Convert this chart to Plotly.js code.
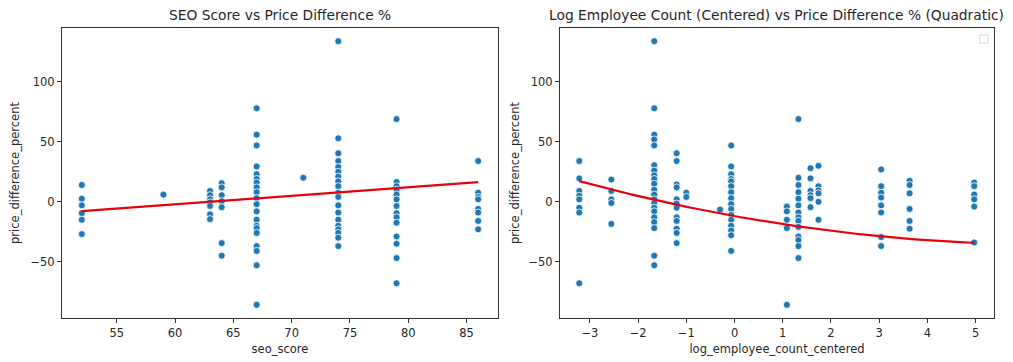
<!DOCTYPE html>
<html>
<head>
<meta charset="utf-8">
<script src="https://cdn.plot.ly/plotly-3.0.1.min.js"></script>
<style>html,body{margin:0;padding:0;background:#fff;}#chart{width:1013px;height:362px;}</style>
</head>
<body>
<div id="chart"></div>
<script>
// ---- Data ----
const seoLevels = [52, 59, 63, 64, 67, 71, 74, 79, 86];
const seoPriceDiff = [
  [14, 2.5, -3, -9.5, -15, -27],
  [6],
  [9, 5.5, 2, -0.5, -3.5, -10.5, -14.5],
  [15.5, 12, 5.5, 0.5, -4.5, -34.5, -45],
  [78, 56, 47, 29.5, 23, 19, 16, 12, 8, 3, -2, -8, -15, -20, -22, -26, -37, -41, -53, -86],
  [20],
  [134, 53, 40.5, 34, 29, 25, 21, 17, 13, 7.5, 4, -3, -9, -15, -20, -23, -26, -30, -37],
  [69, 16.5, 13, 10, 6, 2, -3.5, -9.5, -13, -17.5, -29, -35, -47, -68],
  [34, 7.5, 4, 2, -6, -9, -16, -23]
];

const empLevels = [-3.22, -2.555, -1.665, -1.2, -1.0, -0.3, -0.07, 1.085, 1.325, 1.575, 1.74, 3.04, 3.63, 4.97];
const empPriceDiff = [
  [34, 19.5, 9, 5, 2, -5, -9, -68],
  [18.5, 9, 2, -1, -18.5],
  [134, 78, 56, 52, 47, 30.5, 26, 22, 19, 15, 10, 6, 2, -1, -5, -8, -13, -17, -22, -45, -53],
  [40.5, 34, 14.5, 12, 2, -1.5, -5, -13, -16, -22.5, -26, -34.5],
  [7.5, 4],
  [-6.5],
  [47, 29.5, 23, 19, 17, 13, 8, 3, -2, -6, -11, -15, -20, -24, -28, -41],
  [-4, -8, -15, -22, -86],
  [69, 20, 14, 8, 2.5, -3, -9, -13, -16, -21, -29, -32, -37, -47],
  [28, 19.5, 9, 5.5, 3, -4.5],
  [30, 13, 9.5, 7, 0, -15],
  [27, 13, 7.5, 3.5, -3, -9, -29.5, -37],
  [17.5, 14, 7, -6, -16, -22.5],
  [16, 13, 6, 2, -4, -34]
];

// Fitted model coefficients as shown in the reference (constant, linear, quadratic terms)
const seoFitCoef = [-44.65, 0.709];
const empFitCoef = [-12.0, -7.265, 0.5617];

const titles = ["SEO Score vs Price Difference %", "Log Employee Count (Centered) vs Price Difference % (Quadratic)"];
const xLabels = ["seo_score", "log_employee_count_centered"];
const yLabel = "price_difference_percent";

// ---- Helpers ----
function expand(levels, groups) {
  const xs = [], ys = [];
  levels.forEach((lv, i) => groups[i].forEach(v => { xs.push(lv); ys.push(v); }));
  return {xs, ys};
}
function curve(coef, x0, x1, steps) {
  const X = [], Y = [];
  for (let i = 0; i <= steps; i++) {
    const x = x0 + (x1 - x0) * i / steps;
    X.push(x);
    Y.push(coef.reduce((s, c, p) => s + c * Math.pow(x, p), 0));
  }
  return {X, Y};
}

const L = expand(seoLevels, seoPriceDiff);
const R = expand(empLevels, empPriceDiff);
const linLine = curve(seoFitCoef, Math.min(...L.xs), Math.max(...L.xs), 2);
const quadLine = curve(empFitCoef, Math.min(...R.xs), Math.max(...R.xs), 120);

const markerStyle = {color: '#1f77b4', size: 7, line: {color: '#ffffff', width: 0.8}};
const traces = [
  {type: 'scatter', mode: 'markers', x: L.xs, y: L.ys, xaxis: 'x', yaxis: 'y', marker: markerStyle, showlegend: false},
  {type: 'scatter', mode: 'lines', x: linLine.X, y: linLine.Y, xaxis: 'x', yaxis: 'y', line: {color: '#e8000b', width: 2.2}, showlegend: false},
  {type: 'scatter', mode: 'markers', x: R.xs, y: R.ys, xaxis: 'x2', yaxis: 'y2', marker: markerStyle, showlegend: false},
  {type: 'scatter', mode: 'lines', x: quadLine.X, y: quadLine.Y, xaxis: 'x2', yaxis: 'y2', line: {color: '#e8000b', width: 2.2}, showlegend: false}
];

const font = {family: 'DejaVu Sans, sans-serif', size: 11.5, color: '#262626'};
function axis(extra) {
  return Object.assign({
    showgrid: false, zeroline: false, showline: true, mirror: true,
    linecolor: '#333333', linewidth: 1, ticks: 'outside', ticklen: 4, tickcolor: '#333333',
    tickfont: font, title: {font: font}
  }, extra);
}

const layout = {
  width: 1013, height: 362,
  margin: {l: 62, r: 19, t: 28, b: 44},
  paper_bgcolor: '#ffffff', plot_bgcolor: '#ffffff',
  font: font,
  showlegend: false,
  xaxis: axis({domain: [0, 0.4678], range: [50.3, 87.7], tickvals: [55, 60, 65, 70, 75, 80, 85], anchor: 'y',
               title: {text: xLabels[0], font: font, standoff: 6}}),
  yaxis: axis({domain: [0, 1], range: [-97, 145], tickvals: [-50, 0, 50, 100], anchor: 'x',
               title: {text: yLabel, font: font, standoff: 8}}),
  xaxis2: axis({domain: [0.5343, 1], range: [-3.62, 5.38], tickvals: [-3, -2, -1, 0, 1, 2, 3, 4, 5], anchor: 'y2',
                title: {text: xLabels[1], font: font, standoff: 6}}),
  yaxis2: axis({domain: [0, 1], range: [-97, 145], tickvals: [-50, 0, 50, 100], anchor: 'x2',
                title: {text: yLabel, font: font, standoff: 6}}),
  annotations: [
    {text: titles[0], xref: 'x domain', yref: 'y domain', x: 0.5, y: 1, xanchor: 'center', yanchor: 'middle', yshift: 13,
     showarrow: false, font: {family: 'DejaVu Sans, sans-serif', size: 13.8, color: '#262626'}},
    {text: titles[1], xref: 'x2 domain', yref: 'y2 domain', x: 0.5, y: 1, xanchor: 'center', yanchor: 'middle', yshift: 13,
     showarrow: false, font: {family: 'DejaVu Sans, sans-serif', size: 13.8, color: '#262626'}}
  ],
  shapes: [
    {type: 'rect', xref: 'x2 domain', yref: 'y2 domain', x0: 0.967, x1: 0.986, y0: 0.948, y1: 0.976,
     line: {color: '#d9d9d9', width: 1}, fillcolor: '#ffffff'}
  ]
};

Plotly.newPlot('chart', traces, layout, {staticPlot: true, displayModeBar: false});
</script>
</body>
</html>
